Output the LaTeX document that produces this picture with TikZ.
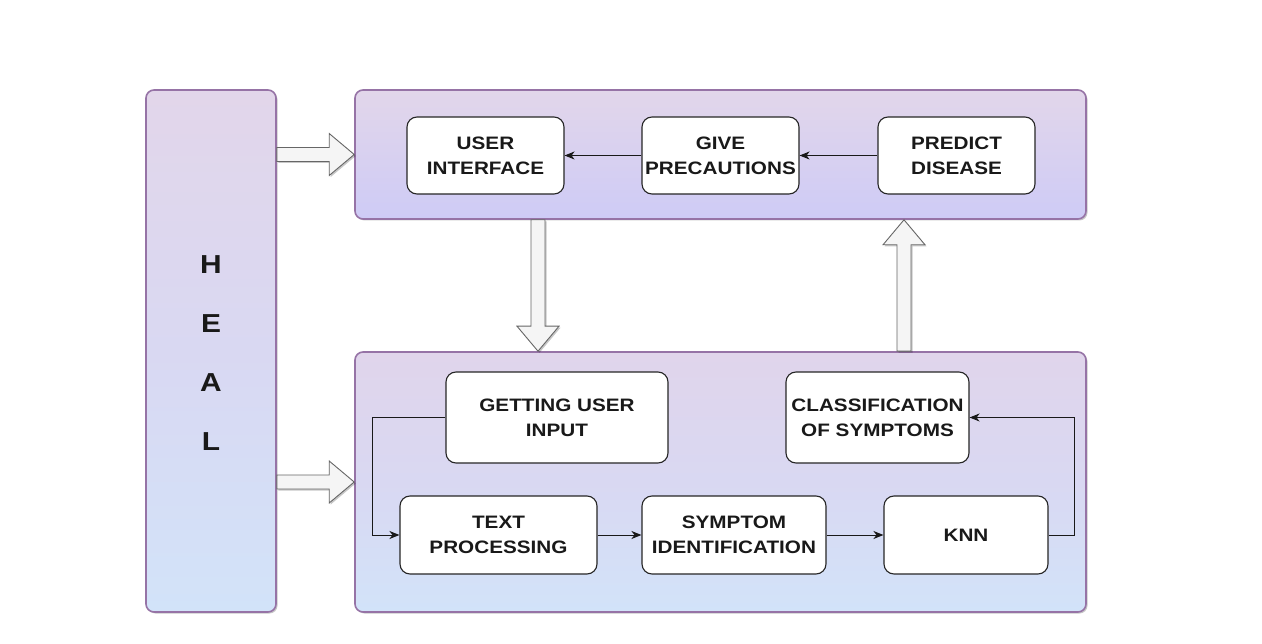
\documentclass[tikz,border=0pt]{standalone}
\usepackage{fontspec}
\setmainfont{Liberation Sans}[FakeStretch=1.15]
\usetikzlibrary{arrows.meta,shadows,calc}
\definecolor{panelborder}{HTML}{9673A6}
\definecolor{lilac}{HTML}{E2D6EA}
\definecolor{lavender}{HTML}{CECBF6}
\definecolor{midhue}{HTML}{D9D8F2}
\definecolor{skyblue}{HTML}{D2E3F9}
\definecolor{arrowfill}{HTML}{F5F5F5}
\definecolor{arrowline}{HTML}{666666}
\newcommand\boxfont{\fontsize{18pt}{25pt}\selectfont\bfseries}
\newcommand\healfont{\fontsize{26pt}{59pt}\selectfont\bfseries}
\tikzset{
  softshadow/.style={drop shadow={shadow xshift=1.5pt, shadow yshift=-1.5pt, opacity=0.22, fill=black}},
  panel/.style={draw=panelborder, line width=1.6pt, rounded corners=8pt, inner sep=0pt, softshadow},
  box/.style={draw=black!85, line width=1.1pt, fill=white, rounded corners=10pt,
    align=center, font=\boxfont, inner sep=0pt, text=black!90},
  flow/.style={draw=black!90, line width=1pt, -{Stealth[length=10pt,width=8pt,inset=3pt]}},
  blockarrow/.style={draw=arrowline, fill=arrowfill, line width=0.9pt, line join=miter, softshadow},
}
\newcommand\rightblock[2]{\path[blockarrow] let \p1=(#1), \p2=(#2) in
  (\x1,\y1-7pt) -- (\x2-25pt,\y1-7pt) -- (\x2-25pt,\y1-21pt) -- (\x2,\y1)
  -- (\x2-25pt,\y1+21pt) -- (\x2-25pt,\y1+7pt) -- (\x1,\y1+7pt) -- cycle;}
\newcommand\downblock[2]{\path[blockarrow] let \p1=(#1), \p2=(#2) in
  (\x1-7pt,\y1) -- (\x1-7pt,\y2+25pt) -- (\x1-21pt,\y2+25pt) -- (\x1,\y2)
  -- (\x1+21pt,\y2+25pt) -- (\x1+7pt,\y2+25pt) -- (\x1+7pt,\y1) -- cycle;}
\newcommand\upblock[2]{\path[blockarrow] let \p1=(#1), \p2=(#2) in
  (\x1-7pt,\y1) -- (\x1-7pt,\y2-25pt) -- (\x1-21pt,\y2-25pt) -- (\x1,\y2)
  -- (\x1+21pt,\y2-25pt) -- (\x1+7pt,\y2-25pt) -- (\x1+7pt,\y1) -- cycle;}
\begin{document}
\begin{tikzpicture}[x=1pt,y=-1pt]
  \fill[white] (0,0) rectangle (1262,644);
  \useasboundingbox (0,0) rectangle (1262,644);

  % panels
  \node[panel, top color=lilac, bottom color=skyblue, middle color=midhue,
        minimum width=130pt, minimum height=522pt,
        label={[font=\healfont, align=center, yshift=-2pt, text=black!90]center:H\\E\\A\\L}]
        (heal) at (211,351) {};
  \node[panel, top color=lilac, bottom color=lavender,
        minimum width=731pt, minimum height=129pt] (toppanel) at (720.5,154.5) {};
  \node[panel, top color=lilac!90!lavender, bottom color=skyblue, middle color=midhue,
        minimum width=731pt, minimum height=260pt] (botpanel) at (720.5,482) {};

  % top row
  \node[box, minimum width=157pt, minimum height=77pt] (ui) at (485.5,155.5) {USER\\INTERFACE};
  \node[box, minimum width=157pt, minimum height=77pt] (gp) at (720.5,155.5) {GIVE\\PRECAUTIONS};
  \node[box, minimum width=157pt, minimum height=77pt] (pd) at (956.5,155.5) {PREDICT\\DISEASE};

  % bottom panel
  \node[box, minimum width=222pt, minimum height=91pt] (gui) at (557,417.5) {GETTING USER\\INPUT};
  \node[box, minimum width=183pt, minimum height=91pt] (cls) at (877.5,417.5) {CLASSIFICATION\\OF SYMPTOMS};
  \node[box, minimum width=197pt, minimum height=78pt] (tp) at (498.5,535) {TEXT\\PROCESSING};
  \node[box, minimum width=184pt, minimum height=78pt] (si) at (734,535) {SYMPTOM\\IDENTIFICATION};
  \node[box, minimum width=164pt, minimum height=78pt] (knn) at (966,535) {KNN};

  % connectors
  \draw[flow] (pd.west) -- (gp.east);
  \draw[flow] (gp.west) -- (ui.east);
  \draw[flow] (gui.west) -- ++(-73,0) |- (tp.west);
  \draw[flow] (tp.east) -- (si.west);
  \draw[flow] (si.east) -- (knn.west);
  \draw[flow] (knn.east) -- ++(26,0) |- (cls.east);

  % block arrows
  \coordinate (downx) at (538,0);
  \coordinate (upx) at (904,0);
  \coordinate (h1) at (heal.east |- toppanel.west);
  \coordinate (h2) at (heal.east |- botpanel.west);
  \rightblock{h1}{toppanel.west}
  \rightblock{h2}{botpanel.west}
  \coordinate (d1) at (toppanel.south -| downx);
  \coordinate (d2) at (botpanel.north -| downx);
  \downblock{d1}{d2}
  \coordinate (u1) at (botpanel.north -| upx);
  \coordinate (u2) at (toppanel.south -| upx);
  \upblock{u1}{u2}
\end{tikzpicture}
\end{document}
